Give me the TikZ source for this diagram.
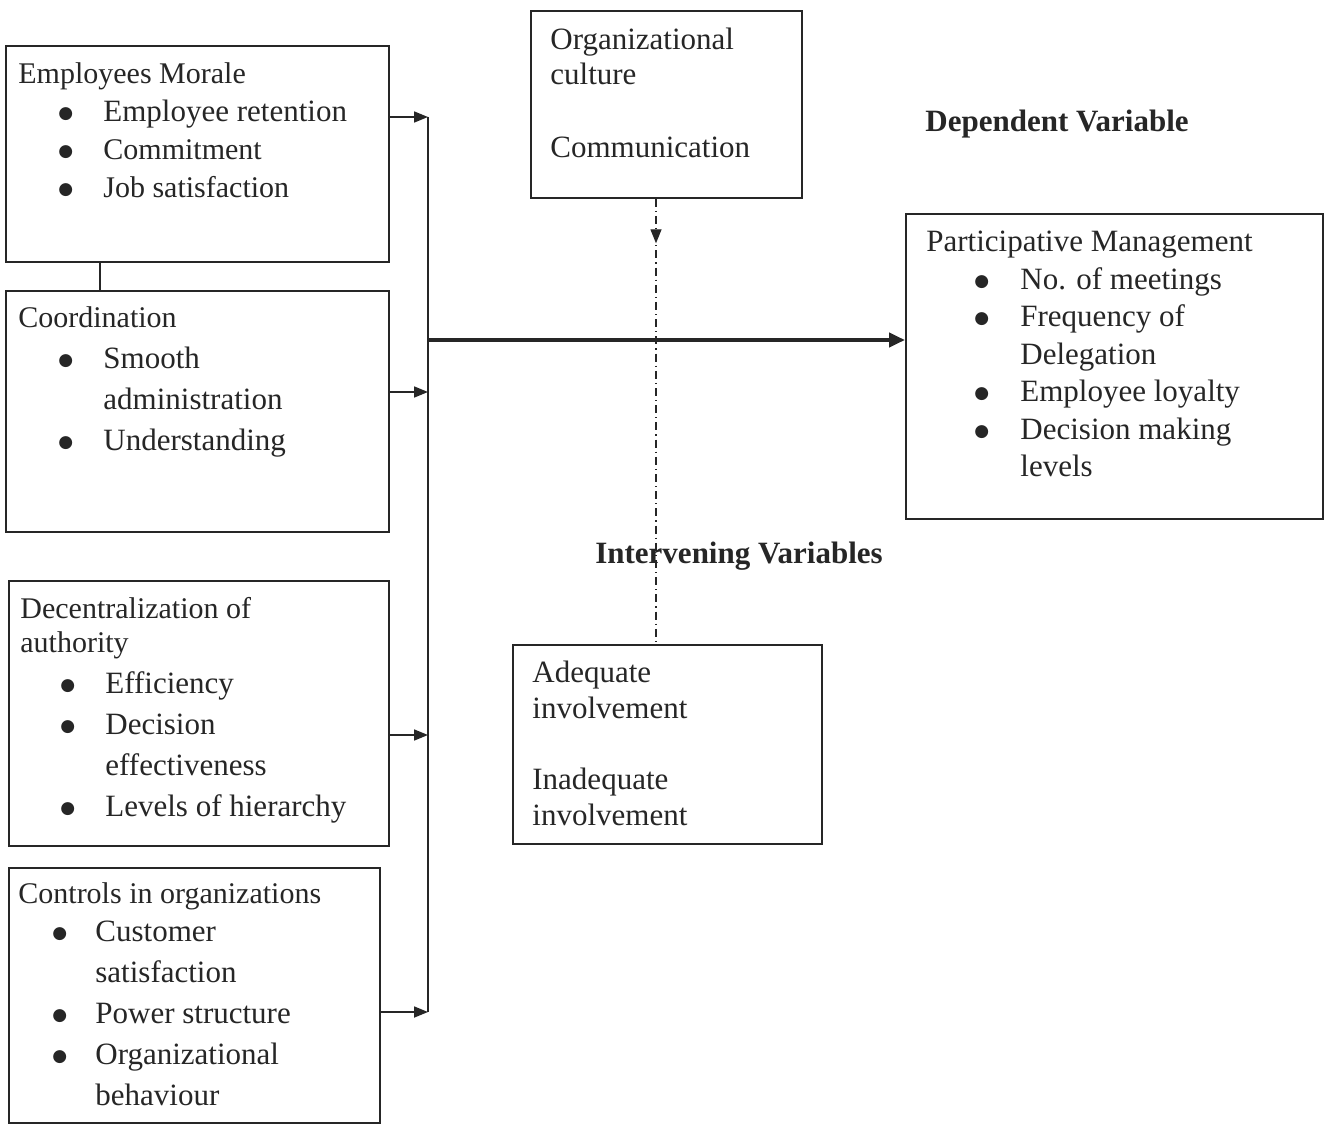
\documentclass[tikz,border=0pt]{standalone}
\usepackage{fontspec}
\setmainfont{Liberation Serif}
\newfontfamily\symf{DejaVu Sans}
\usetikzlibrary{arrows.meta,calc,decorations.markings}
\newcommand{\bdot}{\raisebox{1.6pt}{\symf\fontsize{8.5}{8.5}\selectfont ●}}
\newcommand{\bulA}{\makebox[42.5pt][l]{\hspace{20pt}\bdot}}
\newcommand{\indA}{\hspace*{42.5pt}}
\newcommand{\bulB}{\makebox[38.5pt][l]{\hspace{17pt}\bdot}}
\newcommand{\indB}{\hspace*{38.5pt}}
\newcommand{\bulC}{\makebox[47pt][l]{\hspace{24pt}\bdot}}
\newcommand{\indC}{\hspace*{47pt}}
\begin{document}
\begin{tikzpicture}[x=0.5pt,y=-0.5pt,
  box/.style={draw=black!85, line width=0.9pt, anchor=north west, inner sep=0pt},
  txt/.style={inner sep=0pt, anchor=north west, align=left, text=black!85},
  hd/.style={inner sep=0pt, font=\fontsize{15.5}{19}\selectfont\bfseries, text=black!85},
  conn/.style={draw=black!85, line width=0.85pt},
  arr/.style={conn, -{Triangle[length=7pt,width=5.5pt]}},
  bigarr/.style={draw=black!85, line width=2pt, -{Triangle[length=8pt,width=7pt]}},
  dd/.style={draw=black!85, line width=0.6pt, dash pattern=on 4pt off 2pt on 0.6pt off 2pt}
]
\useasboundingbox[fill=white] (0,0) rectangle (1325,1128);

% boxes
\node[box, minimum width=191.5pt, minimum height=108pt] (b1) at (5,45) {};
\node[box, minimum width=191.5pt, minimum height=120.5pt] (b2) at (5,290) {};
\node[box, minimum width=190pt, minimum height=132.5pt] (b3) at (8,580) {};
\node[box, minimum width=185.5pt, minimum height=127.5pt] (b4) at (8,867) {};
\node[box, minimum width=135.5pt, minimum height=93.5pt] (oc) at (530,10) {};
\node[box, minimum width=154.5pt, minimum height=99.5pt] (iv) at (512,644) {};
\node[box, minimum width=208.5pt, minimum height=152.5pt] (pm) at (905,213) {};

% texts
\node[txt, font=\fontsize{15}{19}\selectfont] (t1) at (18,62) {Employees Morale\\
\fontsize{15.5}{19}\selectfont\bulA Employee retention\\
\bulA Commitment\\
\bulA Job satisfaction};
\node[txt, font=\fontsize{15.5}{20.5}\selectfont] (t2) at (18,306) {\fontsize{15}{20.5}\selectfont Coordination\\
\bulA Smooth\\
\indA administration\\
\bulA Understanding};
\node[txt, font=\fontsize{15.5}{20.5}\selectfont] (t3) at (20,597) {\fontsize{15}{17}\selectfont Decentralization of\\[-3.5pt]
\fontsize{15}{17}\selectfont authority\\
\bulA Efficiency\\
\bulA Decision\\
\indA effectiveness\\
\bulA Levels of hierarchy};
\node[txt, font=\fontsize{15.5}{20.5}\selectfont] (t4) at (18,882) {\fontsize{15}{19}\selectfont Controls in organizations\\[-1.5pt]
\bulB Customer\\
\indB satisfaction\\
\bulB Power structure\\
\bulB Organizational\\
\indB behaviour};
\node[txt, font=\fontsize{15.5}{17.5}\selectfont] (t5) at (550,28) {Organizational\\
culture\\[19pt]
Communication};
\node[txt, font=\fontsize{15.5}{18}\selectfont] (t6) at (532,661) {Adequate\\
involvement\\[17.5pt]
Inadequate\\
involvement};
\node[txt, font=\fontsize{15.5}{18.75}\selectfont] (t7) at (926,231) {Participative Management\\
\bulC No. of meetings\\
\bulC Frequency of\\
\indC Delegation\\
\bulC Employee loyalty\\
\bulC Decision making\\
\indC levels};

\node[hd] (dv) at (1057,124) {Dependent Variable};
\node[hd] (ivh) at (739,556) {Intervening Variables};

% connectors
\coordinate (a1) at (428,117);
\coordinate (a2) at (428,392);
\coordinate (a3) at (428,735);
\coordinate (a4) at (428,1012);
\coordinate (m) at (428,340);

\draw[conn] (b1.south west) ++(95,0) coordinate (k) -- (k |- b2.north);
\draw[conn] (a1) -- (a4);
\draw[arr] (b1.east |- a1) -- (a1);
\draw[arr] (b2.east |- a2) -- (a2);
\draw[arr] (b3.east |- a3) -- (a3);
\draw[arr] (b4.east |- a4) -- (a4);
\draw[bigarr] (m) -- (pm.west |- m);

\coordinate (dx) at (656,0);
\draw[dd, postaction={decorate}, decoration={markings, mark=at position 0.1 with {\arrow[solid]{Triangle[length=7pt,width=5.5pt]}}}]
  (oc.south -| dx) -- (iv.north -| dx);
\end{tikzpicture}
\end{document}
